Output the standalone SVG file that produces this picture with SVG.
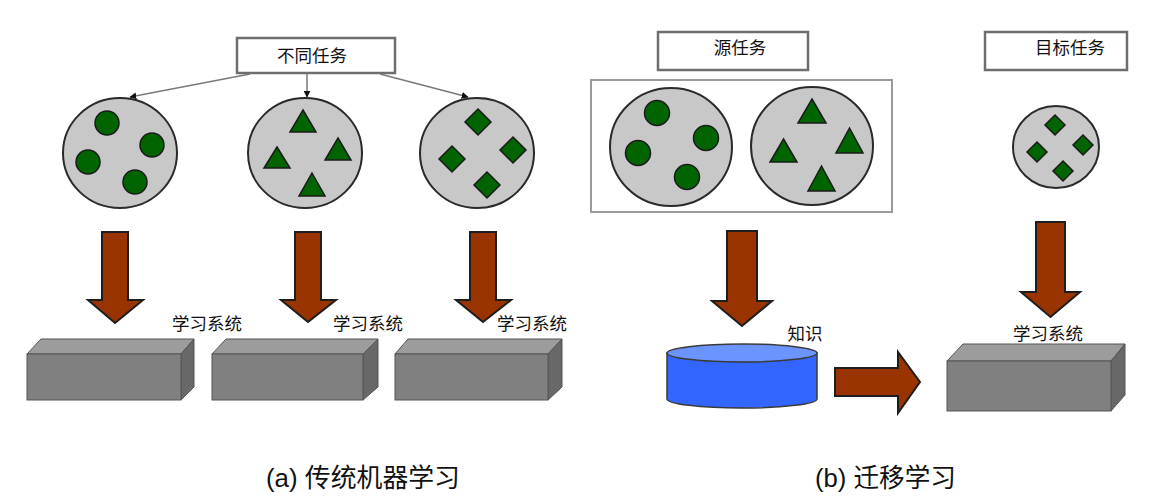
<svg xmlns="http://www.w3.org/2000/svg" width="1160" height="500" viewBox="0 0 1160 500">
<style>
.bg{fill:#ffffff}
.lbl{fill:#ffffff;stroke:#6e6e6e;stroke-width:2.5}
.frame{fill:#ffffff;stroke:#9a9a9a;stroke-width:2}
.pool{fill:#c8c8c8;stroke:#2a2a2a;stroke-width:2}
.g{fill:#006400;stroke:#1a1a1a;stroke-width:1.5}
.arr{fill:#993300;stroke:#1e1e1e;stroke-width:2;stroke-linejoin:miter}
.front{fill:#808080;stroke:#555;stroke-width:1}
.top{fill:#9c9c9c;stroke:#555;stroke-width:1}
.side{fill:#686868;stroke:#555;stroke-width:1}
.t{font-family:"Noto Sans CJK SC","Liberation Sans",sans-serif;font-size:17.5px;fill:#111}
.cap{font-family:"Liberation Sans","Noto Sans CJK SC",sans-serif;font-size:26px;fill:#111}
.conn{stroke:#7a7a7a;stroke-width:1.5;fill:none}
</style>
<defs>
<marker id="ah" viewBox="0 0 10 10" refX="9" refY="5" markerWidth="7" markerHeight="7" orient="auto" markerUnits="userSpaceOnUse">
<path d="M0,0 L10,5 L0,10 Z" fill="#111"/>
</marker>
</defs>
<rect class="bg" x="0" y="0" width="1160" height="500"/>

<!-- (a) traditional ML -->
<g id="tasks-label">
<rect class="lbl" x="237" y="38" width="158" height="35"/>
<text class="t" x="312" y="62" text-anchor="middle">不同任务</text>
</g>

<g id="connectors">
<line class="conn" x1="250" y1="74" x2="130" y2="97" marker-end="url(#ah)"/>
<line class="conn" x1="307" y1="73" x2="307" y2="97" marker-end="url(#ah)"/>
<line class="conn" x1="380" y1="74" x2="468" y2="97" marker-end="url(#ah)"/>
<polygon class="arr" points="102,232 128,232 128,300 143,300 115,323 88,300 102,300"/>
<polygon class="arr" points="295,232 321,232 321,300 336,300 308,322 281,300 295,300"/>
<polygon class="arr" points="470,232 496,232 496,300 511,300 483,322 456,300 470,300"/>
<polygon class="arr" points="727,231 757,231 757,301 772,301 742,326 712,301 727,301"/>
<polygon class="arr" points="1036,222 1065,222 1065,292 1080,292 1050.5,317 1021,292 1036,292"/>
<polygon class="arr" points="835,368 898,368 898,352 920,382 898,413 898,396 835,396"/>
</g>

<g id="pool-circles-a">
<ellipse class="pool" cx="120" cy="153" rx="57" ry="55"/>
<circle class="g" cx="107" cy="123" r="12"/>
<circle class="g" cx="152" cy="145" r="12"/>
<circle class="g" cx="88" cy="162" r="12"/>
<circle class="g" cx="135" cy="182" r="12"/>
</g>
<g id="pool-triangles-a">
<ellipse class="pool" cx="305" cy="153" rx="57" ry="55"/>
<polygon class="g" points="303,110 316,132 290,132"/>
<polygon class="g" points="338,138 351,160 325,160"/>
<polygon class="g" points="277,147 290,168 264,168"/>
<polygon class="g" points="312,173 325,196 299,196"/>
</g>
<g id="pool-diamonds-a">
<ellipse class="pool" cx="477" cy="153" rx="57" ry="55"/>
<polygon class="g" points="478,109 491,122 478,135 465,122"/>
<polygon class="g" points="513,137 526,150 513,163 500,150"/>
<polygon class="g" points="452,146 465,159 452,172 439,159"/>
<polygon class="g" points="487,172 500,185 487,198 474,185"/>
</g>

<g id="learner-a1">
<polygon class="top" points="27,354 41,339 194,339 181,354"/>
<polygon class="side" points="181,354 194,339 194,387 181,400"/>
<rect class="front" x="27" y="354" width="154" height="46"/>
<text class="t" x="207" y="330" text-anchor="middle">学习系统</text>
</g>
<g id="learner-a2">
<polygon class="top" points="212,354 226,339 378,339 363,354"/>
<polygon class="side" points="363,354 378,339 378,387 363,400"/>
<rect class="front" x="212" y="354" width="151" height="46"/>
<text class="t" x="368" y="330" text-anchor="middle">学习系统</text>
</g>
<g id="learner-a3">
<polygon class="top" points="395,354 408,339 562,339 548,354"/>
<polygon class="side" points="548,354 562,339 562,387 548,400"/>
<rect class="front" x="395" y="354" width="153" height="46"/>
<text class="t" x="532" y="330" text-anchor="middle">学习系统</text>
</g>

<g id="caption-a">
<text class="cap" x="266" y="487" textLength="194" lengthAdjust="spacingAndGlyphs">(a) 传统机器学习</text>
</g>

<!-- (b) transfer learning -->
<g id="source-label">
<rect class="lbl" x="658" y="32" width="150" height="38"/>
<text class="t" x="740" y="54" text-anchor="middle">源任务</text>
</g>
<g id="source-tasks">
<rect class="frame" x="591" y="80" width="301" height="132"/>
<ellipse class="pool" cx="671" cy="147" rx="61" ry="59"/>
<circle class="g" cx="657" cy="113" r="12.5"/>
<circle class="g" cx="706" cy="138" r="12.5"/>
<circle class="g" cx="638" cy="153" r="12.5"/>
<circle class="g" cx="687" cy="177" r="12.5"/>
<ellipse class="pool" cx="812" cy="146" rx="61" ry="59"/>
<polygon class="g" points="812,99 826,123 798,123"/>
<polygon class="g" points="849.5,128 863,153 836,153"/>
<polygon class="g" points="783.5,139 797,162 770,162"/>
<polygon class="g" points="821.5,166 835,191 808,191"/>
</g>

<g id="target-label">
<rect class="lbl" x="985" y="32" width="142" height="38"/>
<text class="t" x="1070" y="54" text-anchor="middle">目标任务</text>
</g>
<g id="target-task">
<ellipse class="pool" cx="1056" cy="147" rx="43" ry="41"/>
<polygon class="g" points="1055,115 1065,125 1055,135 1045,125"/>
<polygon class="g" points="1083,135 1093,145 1083,155 1073,145"/>
<polygon class="g" points="1037,142 1047,152 1037,162 1027,152"/>
<polygon class="g" points="1063,161 1073,171 1063,181 1053,171"/>
</g>

<g id="knowledge">
<path d="M667,353 L667,399 A75,9 0 0 0 817,399 L817,353 Z" fill="#3366ff" stroke="#3a3a3a" stroke-width="1.5"/>
<ellipse cx="742" cy="353" rx="75" ry="9" fill="#6b94ff" stroke="#3a3a3a" stroke-width="1.5"/>
<text class="t" x="805" y="340" text-anchor="middle">知识</text>
</g>

<g id="learner-b">
<polygon class="top" points="947,361 963,344 1125,344 1111,361"/>
<polygon class="side" points="1111,361 1125,344 1125,395 1111,411"/>
<rect class="front" x="947" y="361" width="164" height="50"/>
<text class="t" x="1048" y="340" text-anchor="middle">学习系统</text>
</g>

<g id="caption-b">
<text class="cap" x="815" y="487" textLength="141" lengthAdjust="spacingAndGlyphs">(b) 迁移学习</text>
</g>
</svg>
